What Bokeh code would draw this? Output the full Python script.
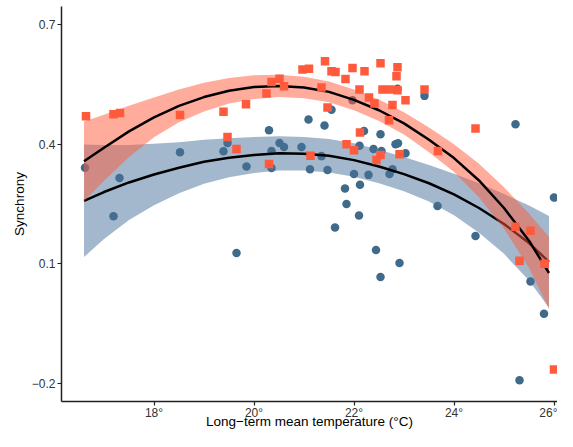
from bokeh.plotting import figure
from bokeh.models import FixedTicker, Range1d
from bokeh.embed import file_html
from bokeh.resources import INLINE

# ---- data ----
blue_x = [16.62, 17.31, 17.19, 18.52, 19.39, 19.47, 19.85, 19.65, 20.30, 20.35,
          20.35, 20.51, 20.60, 20.95, 21.09, 21.41, 21.55, 21.35, 21.12, 21.47,
          21.97, 22.20, 22.53, 22.11, 22.39, 22.55, 22.83, 22.88, 22.00, 22.29,
          22.71, 22.77, 21.82, 22.12, 21.85, 22.10, 22.87, 23.41, 21.62, 22.44,
          22.91, 22.53, 23.67, 23.03, 25.23, 26.00, 24.43, 25.53, 25.80, 25.31]
blue_y = [0.341, 0.315, 0.219, 0.380, 0.382, 0.403, 0.344, 0.127, 0.435, 0.383,
          0.340, 0.403, 0.393, 0.393, 0.462, 0.447, 0.486, 0.370, 0.337, 0.335,
          0.510, 0.433, 0.425, 0.396, 0.388, 0.383, 0.400, 0.402, 0.325, 0.323,
          0.325, 0.337, 0.289, 0.298, 0.250, 0.221, 0.539, 0.521, 0.191, 0.135,
          0.102, 0.067, 0.245, 0.377, 0.450, 0.266, 0.170, 0.056, -0.025, -0.192]

red_x = [16.64, 17.19, 17.32, 18.52, 19.39, 19.84, 20.25, 19.47, 19.65, 20.30,
         20.35, 20.51, 20.60, 20.97, 21.10, 21.42, 21.55, 21.63, 21.83, 21.97,
         22.21, 22.53, 22.87, 22.85, 21.35, 22.11, 22.30, 22.41, 22.57, 22.72,
         22.87, 22.77, 22.70, 21.47, 21.13, 22.12, 21.85, 22.00, 22.53, 22.45,
         23.03, 23.41, 22.91, 23.68, 24.43, 25.23, 25.53, 25.31, 25.81, 26.00]
red_y = [0.470, 0.475, 0.478, 0.473, 0.481, 0.500, 0.527, 0.418, 0.388, 0.350,
         0.556, 0.564, 0.545, 0.587, 0.589, 0.608, 0.583, 0.581, 0.563, 0.591,
         0.583, 0.603, 0.593, 0.570, 0.542, 0.537, 0.517, 0.502, 0.537, 0.537,
         0.535, 0.498, 0.460, 0.492, 0.371, 0.429, 0.400, 0.385, 0.373, 0.360,
         0.510, 0.537, 0.375, 0.383, 0.439, 0.193, 0.183, 0.108, 0.100, -0.165]

fit_x = [16.6, 17.0, 17.5, 18.0, 18.5, 19.0, 19.5, 20.0, 20.5, 21.0,
         21.5, 22.0, 22.5, 23.0, 23.5, 24.0, 24.5, 25.0, 25.5, 25.9]

blue_fit = [0.258, 0.280, 0.304, 0.324, 0.341, 0.356, 0.366, 0.373, 0.377, 0.376,
            0.371, 0.360, 0.344, 0.325, 0.302, 0.274, 0.240, 0.200, 0.152, 0.105]
blue_hi = [0.399, 0.398, 0.398, 0.401, 0.405, 0.411, 0.415, 0.418, 0.420, 0.418,
           0.413, 0.402, 0.386, 0.368, 0.348, 0.326, 0.302, 0.275, 0.246, 0.220]
blue_lo = [0.117, 0.162, 0.210, 0.247, 0.277, 0.301, 0.317, 0.328, 0.334, 0.334,
           0.329, 0.318, 0.302, 0.282, 0.256, 0.222, 0.178, 0.125, 0.058, -0.010]

red_fit = [0.357, 0.391, 0.432, 0.467, 0.496, 0.518, 0.534, 0.543, 0.546, 0.542,
           0.531, 0.511, 0.485, 0.452, 0.411, 0.365, 0.309, 0.240, 0.158, 0.077]
red_hi = [0.457, 0.474, 0.496, 0.517, 0.537, 0.554, 0.566, 0.573, 0.574, 0.569,
          0.557, 0.537, 0.512, 0.480, 0.442, 0.400, 0.351, 0.292, 0.226, 0.167]
red_lo = [0.257, 0.308, 0.368, 0.417, 0.455, 0.482, 0.502, 0.513, 0.518, 0.515,
          0.505, 0.485, 0.458, 0.424, 0.380, 0.330, 0.267, 0.188, 0.090, -0.013]

x_ticks = [18, 20, 22, 24, 26]
x_tick_labels = ["18°", "20°", "22°", "24°", "26°"]
y_ticks = [0.7, 0.4, 0.1, -0.2]
y_tick_labels = ["0.7", "0.4", "0.1", "\u22120.2"]
x_title = "Long\u2212term mean temperature (°C)"
y_title = "Synchrony"

BLUE = "#3F6A8A"
BLUE_RIB = "#48729A"
RED = "#FF5A3C"
RED_RIB = "#FF5A3C"
FONT = "Liberation Sans"

p = figure(width=557, height=431, output_backend="svg", toolbar_location=None,
           x_range=Range1d(16.15, 26.07), y_range=Range1d(-0.245, 0.745),
           min_border_left=61, min_border_right=0, min_border_top=6,
           min_border_bottom=29)
p.outline_line_color = None
p.grid.visible = False

p.scatter(blue_x, blue_y, marker="circle", size=8.5, fill_color=BLUE,
          line_color=None)
p.varea(x=fit_x, y1=blue_lo, y2=blue_hi, fill_color=BLUE_RIB, fill_alpha=0.5)
p.line(fit_x, blue_fit, line_color="black", line_width=2.5)
p.varea(x=fit_x, y1=red_lo, y2=red_hi, fill_color=RED_RIB, fill_alpha=0.5)
p.line(fit_x, red_fit, line_color="black", line_width=2.5)
p.scatter(red_x, red_y, marker="square", size=8.5, fill_color=RED,
          line_color=None)

p.xaxis.ticker = FixedTicker(ticks=x_ticks, minor_ticks=[])
p.yaxis.ticker = FixedTicker(ticks=y_ticks, minor_ticks=[])
p.xaxis.major_label_overrides = dict(zip(x_ticks, x_tick_labels))
p.yaxis.major_label_overrides = dict(zip(y_ticks, y_tick_labels))
p.xaxis.axis_label = x_title
p.yaxis.axis_label = y_title

for ax in (p.xaxis, p.yaxis):
    ax.axis_line_color = "#222222"
    ax.axis_line_width = 1.5
    ax.major_tick_line_color = "#222222"
    ax.major_tick_line_width = 1.2
    ax.major_tick_out = 4
    ax.major_tick_in = 0
    ax.minor_tick_line_color = None
    ax.major_label_text_font = FONT
    ax.major_label_text_font_size = "12px"
    ax.major_label_text_color = "#333333"
    ax.axis_label_text_font = FONT
    ax.axis_label_text_font_size = "13.5px"
    ax.axis_label_text_font_style = "normal"
    ax.axis_label_text_color = "black"

p.xaxis.major_label_standoff = 0
p.xaxis.axis_label_standoff = -9
p.yaxis.major_label_standoff = 2
p.yaxis.axis_label_standoff = 2

open("out.html", "w").write(file_html(p, INLINE))
